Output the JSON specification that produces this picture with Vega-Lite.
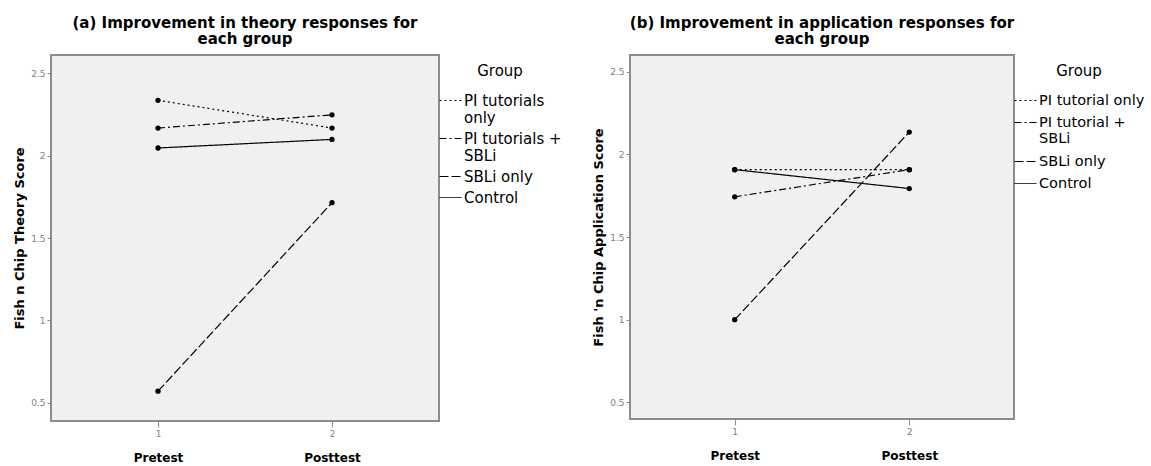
{
  "$schema": "https://vega.github.io/schema/vega-lite/v6.json",
  "background": "white",
  "padding": {"left": 12, "top": 15, "right": 0, "bottom": 0},
  "spacing": 19,
  "config": {
    "font": "DejaVu Sans",
    "view": {"fill": "#f0f0f0", "stroke": "#8c8c8c", "strokeWidth": 2},
    "axis": {"grid": false, "domain": false, "tickColor": "#8c8c8c", "labelColor": "#808080", "labelFontSize": 9, "tickSize": 4},
    "title": {"font": "DejaVu Sans", "fontSize": 15, "fontWeight": "bold", "color": "black", "lineHeight": 16, "anchor": "middle", "frame": "group", "offset": 8},
    "legend": {"titleFont": "DejaVu Sans", "titleFontSize": 15, "titleFontWeight": "normal", "titleColor": "black", "labelFont": "DejaVu Sans", "labelFontSize": 15, "labelColor": "black", "labelLineHeight": 16, "offset": -9, "padding": 9, "symbolType": "stroke", "symbolSize": 484, "symbolStrokeColor": "black", "symbolStrokeWidth": 1, "labelOffset": 2, "rowPadding": 1, "titlePadding": 10, "titleAnchor": "middle", "labelLimit": 300}
  },
  "datasets": {
    "theory": [
      {"group": "PI tutorials only", "time": 1, "score": 2.335},
      {"group": "PI tutorials only", "time": 2, "score": 2.167},
      {"group": "PI tutorials + SBLi", "time": 1, "score": 2.167},
      {"group": "PI tutorials + SBLi", "time": 2, "score": 2.247},
      {"group": "SBLi only", "time": 1, "score": 0.571},
      {"group": "SBLi only", "time": 2, "score": 1.714},
      {"group": "Control", "time": 1, "score": 2.046},
      {"group": "Control", "time": 2, "score": 2.098}
    ],
    "application": [
      {"group": "PI tutorial only", "time": 1, "score": 1.907},
      {"group": "PI tutorial only", "time": 2, "score": 1.907},
      {"group": "PI tutorial + SBLi", "time": 1, "score": 1.743},
      {"group": "PI tutorial + SBLi", "time": 2, "score": 1.907},
      {"group": "SBLi only", "time": 1, "score": 1.0},
      {"group": "SBLi only", "time": 2, "score": 2.134},
      {"group": "Control", "time": 1, "score": 1.907},
      {"group": "Control", "time": 2, "score": 1.793}
    ]
  },
  "hconcat": [
    {
      "title": {"text": ["(a) Improvement in theory responses for", "each group"]},
      "width": 388,
      "height": 366,
      "data": {"name": "theory"},
      "resolve": {"axis": {"x": "independent"}},
      "layer": [
        {
          "mark": {"type": "line", "color": "black", "strokeWidth": 1.2},
          "encoding": {
            "x": {"field": "time", "type": "quantitative", "scale": {"domain": [0.385, 2.615], "nice": false, "zero": false},
              "axis": {"values": [1, 2], "format": "d", "title": null, "orient": "bottom", "tickSize": 6, "labelPadding": 2}},
            "y": {"field": "score", "type": "quantitative", "scale": {"domain": [0.39, 2.61], "nice": false, "zero": false},
              "axis": {"values": [0.5, 1, 1.5, 2, 2.5], "format": "~g", "title": "Fish n Chip Theory Score", "titleFontSize": 13, "titleFontWeight": "bold", "titleColor": "black", "titlePadding": 4}},
            "strokeDash": {"field": "group", "type": "nominal",
              "scale": {"domain": ["PI tutorials only", "PI tutorials + SBLi", "SBLi only", "Control"], "range": [[2, 3], [7, 3, 2, 3], [9, 3], [1, 0]]},
              "legend": {"title": "Group", "labelExpr": "datum.label == 'PI tutorials only' ? ['PI tutorials', 'only'] : datum.label == 'PI tutorials + SBLi' ? ['PI tutorials +', 'SBLi'] : datum.label"}}
          }
        },
        {
          "mark": {"type": "point", "filled": true, "color": "black", "size": 28, "opacity": 1},
          "encoding": {
            "x": {"field": "time", "type": "quantitative",
              "axis": {"values": [1, 2], "title": null, "orient": "bottom", "ticks": false, "labelPadding": 36, "labelBaseline": "middle", "labelFontSize": 12, "labelFontWeight": "bold", "labelColor": "black", "labelExpr": "datum.value == 1 ? 'Pretest' : 'Posttest'"}},
            "y": {"field": "score", "type": "quantitative"}
          }
        }
      ]
    },
    {
      "title": {"text": ["(b) Improvement in application responses for", "each group"]},
      "width": 384,
      "height": 364,
      "data": {"name": "application"},
      "resolve": {"axis": {"x": "independent"}},
      "layer": [
        {
          "mark": {"type": "line", "color": "black", "strokeWidth": 1.2},
          "encoding": {
            "x": {"field": "time", "type": "quantitative", "scale": {"domain": [0.4, 2.6], "nice": false, "zero": false},
              "axis": {"values": [1, 2], "format": "d", "title": null, "orient": "bottom", "tickSize": 6, "labelPadding": 2}},
            "y": {"field": "score", "type": "quantitative", "scale": {"domain": [0.4, 2.6], "nice": false, "zero": false},
              "axis": {"values": [0.5, 1, 1.5, 2, 2.5], "format": "~g", "title": "Fish 'n Chip Application Score", "titleFontSize": 13, "titleFontWeight": "bold", "titleColor": "black", "titlePadding": 4}},
            "strokeDash": {"field": "group", "type": "nominal",
              "scale": {"domain": ["PI tutorial only", "PI tutorial + SBLi", "SBLi only", "Control"], "range": [[2, 3], [7, 3, 2, 3], [9, 3], [1, 0]]},
              "legend": {"title": "Group", "labelLineHeight": 13, "labelFontSize": 14.5, "rowPadding": 4, "labelExpr": "datum.label == 'PI tutorial + SBLi' ? ['PI tutorial +', 'SBLi'] : datum.label"}}
          }
        },
        {
          "mark": {"type": "point", "filled": true, "color": "black", "size": 28, "opacity": 1},
          "encoding": {
            "x": {"field": "time", "type": "quantitative",
              "axis": {"values": [1, 2], "title": null, "orient": "bottom", "ticks": false, "labelPadding": 36, "labelBaseline": "middle", "labelFontSize": 12, "labelFontWeight": "bold", "labelColor": "black", "labelExpr": "datum.value == 1 ? 'Pretest' : 'Posttest'"}},
            "y": {"field": "score", "type": "quantitative"}
          }
        }
      ]
    }
  ],
  "resolve": {"scale": {"strokeDash": "independent"}}
}
